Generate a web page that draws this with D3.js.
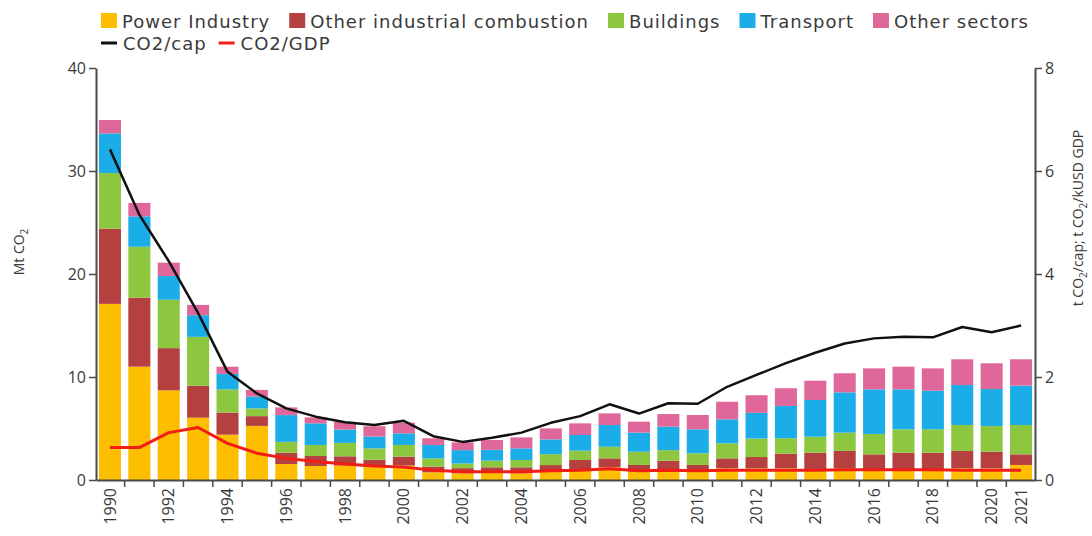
<!DOCTYPE html>
<html><head><meta charset="utf-8">
<script src="https://cdn.jsdelivr.net/npm/d3@7"></script>
<style>
body{margin:0;background:#fff}
svg{display:block}
text{font-family:"Open Sans","Noto Sans",sans-serif;fill:#3a3a3a}
</style>
</head><body><svg id="c" width="1092" height="536"></svg>
<script>
const years = [1990,1991,1992,1993,1994,1995,1996,1997,1998,1999,2000,2001,2002,2003,2004,2005,2006,2007,2008,2009,2010,2011,2012,2013,2014,2015,2016,2017,2018,2019,2020,2021];
const labelYears = [1990,1992,1994,1996,1998,2000,2002,2004,2006,2008,2010,2012,2014,2016,2018,2020,2021];
const seriesNames = ["Power Industry","Other industrial combustion","Buildings","Transport","Other sectors"];
const power = [17.1,11.0,8.7,6.05,4.4,5.25,1.55,1.36,1.4,1.27,1.4,0.75,0.65,0.7,0.65,0.8,0.9,1.23,0.81,0.97,0.8,1.13,1.13,1.13,1.04,1.13,0.97,1.04,1.04,1.13,1.13,1.46];
const otherInd = [7.3,6.7,4.1,3.1,2.15,0.95,1.1,0.97,0.9,0.7,0.87,0.55,0.5,0.53,0.58,0.65,1.04,0.87,0.65,0.9,0.66,0.97,1.1,1.43,1.61,1.69,1.52,1.61,1.61,1.69,1.62,1.03];
const buildings = [5.4,4.95,4.7,4.75,2.25,0.75,1.05,1.07,1.3,1.1,1.13,0.8,0.45,0.65,0.71,1.06,0.91,1.13,1.29,1.03,1.13,1.46,1.8,1.5,1.55,1.78,1.98,2.27,2.27,2.52,2.49,2.85];
const transport = [3.85,2.95,2.3,2.1,1.5,1.15,2.6,2.1,1.3,1.15,1.13,1.3,1.3,1.05,1.13,1.43,1.52,2.11,1.85,2.28,2.33,2.33,2.49,3.13,3.57,3.91,4.33,3.88,3.75,3.88,3.59,3.82];
const otherSectors = [1.3,1.3,1.3,1.0,0.7,0.65,0.75,0.58,0.75,1.0,1.05,0.65,0.75,0.95,1.07,1.07,1.13,1.13,1.06,1.22,1.39,1.71,1.71,1.72,1.87,1.85,2.04,2.2,2.17,2.5,2.5,2.56];
const co2cap = [6.42,5.15,4.25,3.24,2.1,1.68,1.39,1.23,1.12,1.07,1.15,0.85,0.74,0.82,0.92,1.11,1.24,1.47,1.29,1.49,1.48,1.81,2.04,2.27,2.47,2.65,2.75,2.78,2.77,2.97,2.87,3.0];
const co2gdp = [0.63,0.63,0.92,1.02,0.71,0.52,0.42,0.36,0.31,0.27,0.25,0.19,0.16,0.16,0.16,0.18,0.19,0.22,0.18,0.19,0.18,0.19,0.19,0.19,0.19,0.2,0.2,0.2,0.2,0.19,0.19,0.19];
const leftTicks = [0,10,20,30,40];
const rightTicks = [0,2,4,6,8];

const colors = ["#FDBE00","#B4413F","#8DC63F","#1BADE8","#E0679A"];
const axisColor = "#4a4a4a";

const svg = d3.select("#c");
svg.append("rect").attr("width",1092).attr("height",536).attr("fill","#fff");

const L = 96, R = 1035, T = 68, B = 480;
const x = d3.scaleBand().domain(years).range([L, R]).paddingInner(0.25).paddingOuter(0.1);
const yL = d3.scaleLinear().domain([0,40]).range([B, T]);
const yR = d3.scaleLinear().domain([0,8]).range([B, T]);

// stacked data
const table = years.map((yr,i)=>({year:yr, s0:power[i], s1:otherInd[i], s2:buildings[i], s3:transport[i], s4:otherSectors[i]}));
const stack = d3.stack().keys(["s0","s1","s2","s3","s4"])(table);

svg.append("g").selectAll("g").data(stack).join("g")
  .attr("fill",(d,i)=>colors[i])
  .selectAll("rect").data(d=>d).join("rect")
  .attr("x",d=>x(d.data.year))
  .attr("width",x.bandwidth())
  .attr("y",d=>yL(d[1]))
  .attr("height",d=>yL(d[0])-yL(d[1]));

// lines
const line = d3.line().x((d,i)=>x(years[i])+x.bandwidth()/2).y(d=>yR(d));
svg.append("path").attr("d",line(co2gdp)).attr("fill","none").attr("stroke","#F01E14").attr("stroke-width",3).attr("stroke-linejoin","round");
svg.append("path").attr("d",line(co2cap)).attr("fill","none").attr("stroke","#111").attr("stroke-width",2.5).attr("stroke-linejoin","round");

// left axis
const gl = svg.append("g").attr("transform",`translate(${L},0)`)
  .call(d3.axisLeft(yL).tickValues(leftTicks).tickSize(7).tickSizeOuter(0).tickPadding(3));
// right axis
const gr = svg.append("g").attr("transform",`translate(${R},0)`)
  .call(d3.axisRight(yR).tickValues(rightTicks).tickSize(7).tickSizeOuter(0).tickPadding(3));
[gl,gr].forEach(g=>{
  g.select(".domain").attr("stroke",axisColor).attr("stroke-width",2);
  g.selectAll(".tick line").attr("stroke",axisColor).attr("stroke-width",1.5);
  g.selectAll(".tick text").attr("font-size",16).attr("fill","#444").style("font-family","'Open Sans',sans-serif");
});

// bottom axis
const gb = svg.append("g").attr("transform",`translate(0,${B})`)
  .call(d3.axisBottom(x).tickValues(labelYears).tickSize(0).tickSizeOuter(0));
gb.select(".domain").attr("stroke",axisColor).attr("stroke-width",2);
gb.selectAll(".tick text")
  .attr("font-size",16).attr("fill","#444").style("font-family","'Open Sans',sans-serif")
  .attr("transform","rotate(-90)").attr("text-anchor","end")
  .attr("x",-8).attr("y",0).attr("dy","0.35em");
// boundary ticks between years
const halfGap = x.step()*x.paddingInner()/2;
svg.append("g").selectAll("line").data(years.slice(1)).join("line")
  .attr("x1",d=>x(d)-halfGap).attr("x2",d=>x(d)-halfGap)
  .attr("y1",B).attr("y2",B+7)
  .attr("stroke",axisColor).attr("stroke-width",1.5);

// axis titles
const lt = svg.append("text").attr("transform","translate(24,252) rotate(-90)").attr("text-anchor","middle").attr("font-size",14);
lt.append("tspan").text("Mt CO");
lt.append("tspan").text("2").attr("font-size",10).attr("dy",4);

const rt = svg.append("text").attr("transform","translate(1083,218) rotate(-90)").attr("text-anchor","middle").attr("font-size",14);
rt.append("tspan").text("t CO");
rt.append("tspan").text("2").attr("font-size",10).attr("dy",4);
rt.append("tspan").text("/cap; t CO").attr("dy",-4);
rt.append("tspan").text("2").attr("font-size",10).attr("dy",4);
rt.append("tspan").text("/kUSD GDP").attr("dy",-4);

// legend row 1: items spread between x=101 and x=1029
const leg = svg.append("g");
const items = seriesNames.map((n,i)=>{
  const g = leg.append("g");
  g.append("rect").attr("x",0).attr("y",13).attr("width",16).attr("height",15).attr("fill",colors[i]);
  const t = g.append("text").attr("x",21).attr("y",28).attr("font-size",18)
    .style("font-family","'DejaVu Sans',sans-serif").style("letter-spacing","1px").attr("fill","#333").text(n);
  return {g, w: 21 + t.node().getComputedTextLength()};
});
const legStart = 101, legEnd = 1029;
const totalW = d3.sum(items, d=>d.w);
const gap = Math.max(10, (legEnd - legStart - totalW) / (items.length - 1));
let cx = legStart;
items.forEach(it=>{ it.g.attr("transform",`translate(${cx},0)`); cx += it.w + gap; });

// legend row 2
const lineLeg = [["CO2/cap","#111"],["CO2/GDP","#F01E14"]];
let lx = 101;
lineLeg.forEach(([n,c])=>{
  leg.append("line").attr("x1",lx).attr("x2",lx+16).attr("y1",43).attr("y2",43).attr("stroke",c).attr("stroke-width",3);
  const t = leg.append("text").attr("x",lx+22).attr("y",50).attr("font-size",18)
    .style("font-family","'DejaVu Sans',sans-serif").style("letter-spacing","1px").attr("fill","#333").text(n);
  lx += 22 + t.node().getComputedTextLength() + 12;
});
</script>
</body></html>
